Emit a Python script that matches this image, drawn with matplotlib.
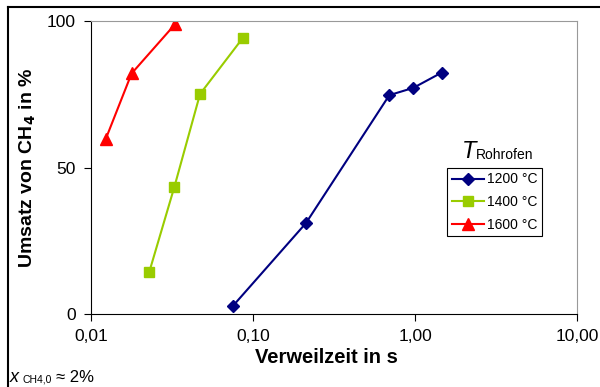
import numpy as np
import matplotlib.pyplot as plt
from matplotlib.lines import Line2D

plt.rcParams['font.family'] = ['Liberation Sans', 'DejaVu Sans']

# Messdaten: Verweilzeit (s) und Umsatz (%)
t_1200 = [0.075, 0.212, 0.694, 0.977, 1.46]
u_1200 = [2.7, 31.0, 74.7, 77.2, 82.4]
t_1400 = [0.0229, 0.0327, 0.0471, 0.0867]
u_1400 = [14.4, 43.4, 75.1, 94.3]
t_1600 = [0.0123, 0.0178, 0.033]
u_1600 = [59.6, 82.1, 98.9]

xticks = [0.01, 0.1, 1, 10]
xticklabels = ["0,01", "0,10", "1,00", "10,00"]
yticks = [0, 50, 100]

fig = plt.figure(figsize=(6, 3.87), dpi=100)
ax = fig.add_axes([0.1517, 0.1886, 0.81, 0.757])

ax.plot(t_1200, u_1200, '-', color='#000080', marker='D', markersize=6, lw=1.5, label="1200 °C")
ax.plot(t_1400, u_1400, '-', color='#99CC00', marker='s', markersize=7, lw=1.5, label="1400 °C")
ax.plot(t_1600, u_1600, '-', color='#FF0000', marker='^', markersize=8, lw=1.5, label="1600 °C")

ax.set_xscale('log')
ax.set_xlim(0.01, 10)
ax.set_ylim(0, 100)
ax.set_xticks(xticks)
ax.set_xticklabels(xticklabels)
ax.minorticks_off()
ax.set_yticks(yticks)
ax.tick_params(labelsize=12.5, direction='out', length=5, pad=6)

for s in ['top', 'right']:
    ax.spines[s].set_color('#999999')
for s in ['left', 'bottom']:
    ax.spines[s].set_color('black')

ax.set_xlabel("Verweilzeit in s", fontsize=14.5, fontweight='bold')
ax.xaxis.set_label_coords(0.484, -0.116)
ax.set_ylabel("Umsatz von CH$_\\mathbf{4}$ in %", fontsize=14, fontweight='bold')
ax.yaxis.set_label_coords(-0.109, 0.5)

leg = ax.legend(loc='upper left', bbox_to_anchor=(0.733, 0.50), fontsize=10,
                frameon=True, fancybox=False, edgecolor='black', framealpha=1,
                handlelength=2.3, handletextpad=0.2, borderpad=0.35, labelspacing=0.62,
                borderaxespad=0)
leg.get_frame().set_linewidth(0.8)

fig.text(0.769, 0.592, "T", fontsize=17, style='italic')
fig.text(0.793, 0.588, "Rohrofen", fontsize=10)

fig.text(0.017, 0.012, "x", fontsize=13, style='italic')
fig.text(0.037, 0.012, "CH4,0", fontsize=7.5)
fig.text(0.093, 0.012, "≈ 2%", fontsize=12)

# Rahmen oben und links
fig.add_artist(Line2D([0.014, 1.0], [0.982, 0.982], transform=fig.transFigure, color='black', lw=1.5))
fig.add_artist(Line2D([0.014, 0.014], [0.0, 0.982], transform=fig.transFigure, color='black', lw=1.5))

plt.savefig("out.png", dpi=100)
